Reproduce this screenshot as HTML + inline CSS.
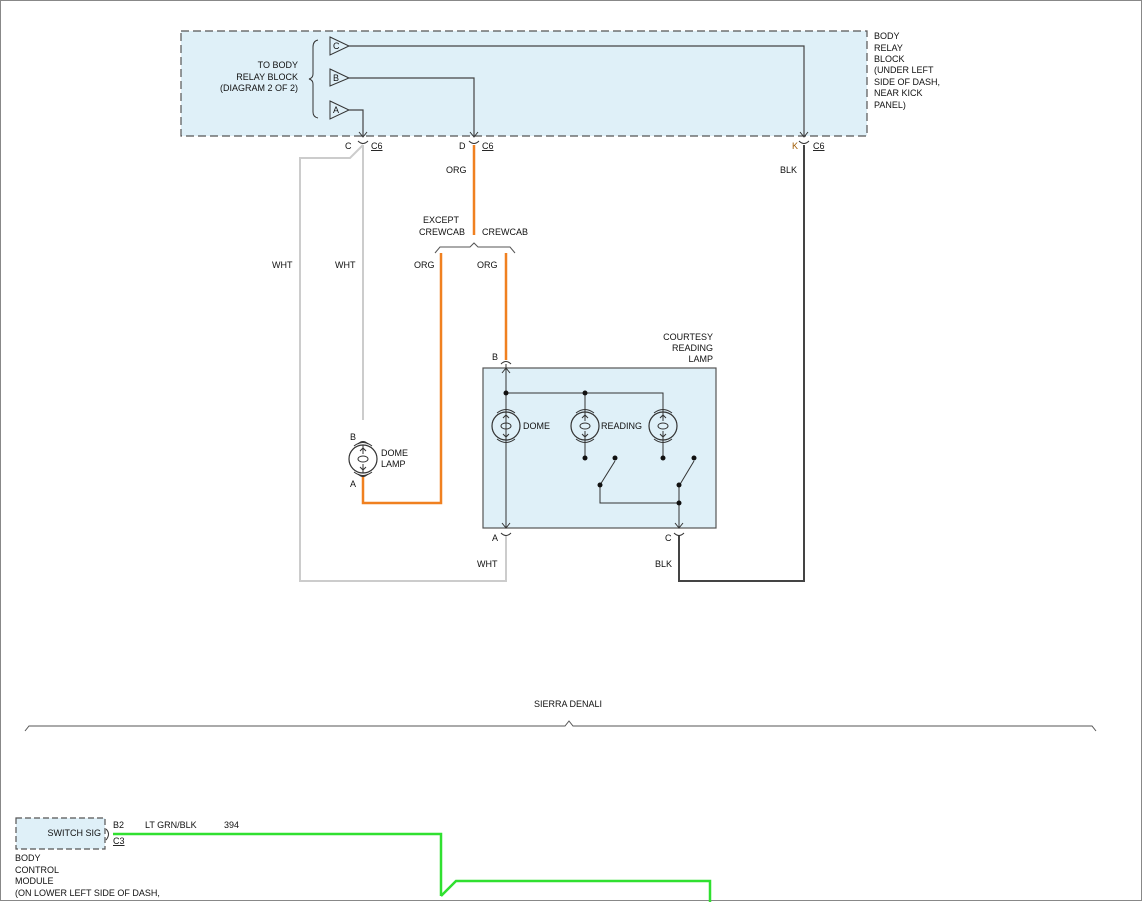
<!DOCTYPE html>
<html><head><meta charset="utf-8"><style>
html,body{margin:0;padding:0;background:#fff}
svg{display:block}
text{font-family:"Liberation Sans",sans-serif;font-size:9px;fill:#111}
</style></head><body>
<svg width="1143" height="902" viewBox="0 0 1143 902" xmlns="http://www.w3.org/2000/svg">
<defs>
<g id="lamp">
<circle cx="0" cy="0" r="14" fill="none" stroke="#333" stroke-width="1.2"/>
<path d="M-9,-13 Q0,-20 9,-13 M-9,13 Q0,20 9,13" fill="none" stroke="#333"/>
<path d="M0,-14 V-5 M0,14 V5" stroke="#333"/>
<ellipse cx="0" cy="0" rx="5" ry="3" fill="none" stroke="#333"/>
<path d="M-3,-8 L0,-11 L3,-8 M-3,8 L0,11 L3,8" fill="none" stroke="#333"/>
</g>
</defs>
<rect x="0.5" y="0.5" width="1141" height="900" fill="none" stroke="#888"/>
<!-- body relay block -->
<rect x="181" y="31" width="686" height="105" fill="#dff0f8" stroke="#555" stroke-width="1.2" stroke-dasharray="8,4"/>
<text x="298" y="68" text-anchor="end">TO BODY</text>
<text x="298" y="80" text-anchor="end">RELAY BLOCK</text>
<text x="298" y="91" text-anchor="end">(DIAGRAM 2 OF 2)</text>
<path d="M318,40 Q313,41 313,47 V74 Q313,78 309,79 Q313,80 313,84 V112 Q313,117 318,118" fill="none" stroke="#333"/>
<polygon points="330,37 349,46 330,55" fill="#dff0f8" stroke="#333"/>
<text x="333" y="49">C</text>
<polygon points="330,69 349,78 330,86" fill="#dff0f8" stroke="#333"/>
<text x="333" y="81">B</text>
<polygon points="330,101 349,110 330,119" fill="#dff0f8" stroke="#333"/>
<text x="333" y="113">A</text>
<path d="M349,46 H804 V136 M349,78 H474 V136 M349,110 H363 V136" fill="none" stroke="#444" stroke-width="1.2"/>
<path d="M359,132 L363,137 L367,132 M470,132 L474,137 L478,132 M800,132 L804,137 L808,132" fill="none" stroke="#333"/>
<path d="M358,141 Q363,146 368,141 M469,141 Q474,146 479,141 M799,141 Q804,146 809,141" fill="none" stroke="#333"/>
<text x="874" y="39">BODY</text><text x="874" y="51">RELAY</text><text x="874" y="62">BLOCK</text>
<text x="874" y="73">(UNDER LEFT</text><text x="874" y="85">SIDE OF DASH,</text>
<text x="874" y="96">NEAR KICK</text><text x="874" y="108">PANEL)</text>
<text x="345" y="149">C</text><text x="371" y="149" text-decoration="underline">C6</text>
<text x="459" y="149">D</text><text x="482" y="149" text-decoration="underline">C6</text>
<text x="792" y="149" style="fill:#a05a00">K</text><text x="813" y="149" text-decoration="underline">C6</text>
<!-- wires -->
<path d="M363,145 V420" fill="none" stroke="#ccc" stroke-width="2"/>
<path d="M363,145 L350,158 H300 V581 H506 V535" fill="none" stroke="#ccc" stroke-width="2"/>
<path d="M474,145 V235" stroke="#f08020" stroke-width="2.5"/>
<path d="M441,253 V503 H363 V475" fill="none" stroke="#f08020" stroke-width="2.5"/>
<path d="M506,253 V360" stroke="#f08020" stroke-width="2.5"/>
<path d="M804,145 V581 H679 V535" fill="none" stroke="#444" stroke-width="2"/>
<path d="M435,253 L440,247 H470 L474,243 L478,247 H510 L515,253" fill="none" stroke="#555"/>
<text x="441" y="223" text-anchor="middle">EXCEPT</text>
<text x="442" y="235" text-anchor="middle">CREWCAB</text>
<text x="482" y="235">CREWCAB</text>
<text x="446" y="173">ORG</text>
<text x="414" y="268">ORG</text><text x="477" y="268">ORG</text>
<text x="272" y="268">WHT</text><text x="335" y="268">WHT</text>
<text x="780" y="173">BLK</text>
<text x="477" y="567">WHT</text><text x="655" y="567">BLK</text>
<!-- dome lamp -->
<use href="#lamp" x="363" y="459"/>
<path d="M358,444 Q363,439 368,444 M358,474 Q363,479 368,474" fill="none" stroke="#333"/>
<text x="350" y="440">B</text><text x="350" y="487">A</text>
<text x="381" y="456">DOME</text><text x="381" y="467">LAMP</text>
<!-- courtesy lamp -->
<text x="713" y="340" text-anchor="end">COURTESY</text>
<text x="713" y="351" text-anchor="end">READING</text>
<text x="713" y="362" text-anchor="end">LAMP</text>
<rect x="483" y="368" width="233" height="160" fill="#dff0f8" stroke="#555" stroke-width="1.2"/>
<path d="M501,364 Q506,359 511,364" fill="none" stroke="#333"/>
<text x="492" y="360">B</text>
<path d="M506,364 V528 M506,393 H663 V412 M585,393 V412 M585,440 V458 M663,440 V458 M600,485 V503 H679 V528 M679,503 V486" fill="none" stroke="#333"/>
<path d="M600,485 L615,461 M679,486 L694,461" stroke="#333"/>
<g fill="#111"><circle cx="506" cy="393" r="2.5"/><circle cx="585" cy="393" r="2.5"/><circle cx="585" cy="458" r="2.5"/><circle cx="663" cy="458" r="2.5"/><circle cx="615" cy="458" r="2.5"/><circle cx="694" cy="458" r="2.5"/><circle cx="600" cy="485" r="2.5"/><circle cx="679" cy="485" r="2.5"/><circle cx="679" cy="503" r="2.5"/></g>
<path d="M502,373 L506,368 L510,373 M502,523 L506,528 L510,523 M675,523 L679,528 L683,523" fill="none" stroke="#333"/>
<use href="#lamp" x="506" y="426"/><use href="#lamp" x="585" y="426"/><use href="#lamp" x="663" y="426"/>
<text x="523" y="429">DOME</text><text x="601" y="429">READING</text>
<path d="M501,533 Q506,538 511,533 M674,533 Q679,538 684,533" fill="none" stroke="#333"/>
<text x="492" y="541">A</text><text x="665" y="541">C</text>
<!-- sierra denali -->
<text x="568" y="707" text-anchor="middle">SIERRA DENALI</text>
<path d="M25,731 L29,726 H565 L569,721 L573,726 H1092 L1096,731" fill="none" stroke="#555"/>
<!-- BCM -->
<rect x="16" y="818" width="89" height="31" fill="#dff0f8" stroke="#555" stroke-width="1.2" stroke-dasharray="6,3"/>
<text x="101" y="836" text-anchor="end">SWITCH SIG</text>
<path d="M106,829 Q111,834 106,840" fill="none" stroke="#333"/>
<text x="113" y="828">B2</text><text x="113" y="844" text-decoration="underline">C3</text>
<text x="145" y="828">LT GRN/BLK</text><text x="224" y="828">394</text>
<path d="M113,834 H441 V896 M441,896 L456,881 H710 V902" fill="none" stroke="#30e030" stroke-width="2.5"/>
<text x="15" y="861">BODY</text><text x="15" y="873">CONTROL</text><text x="15" y="884">MODULE</text>
<text x="15" y="896">(ON LOWER LEFT SIDE OF DASH,</text>
</svg>
</body></html>
